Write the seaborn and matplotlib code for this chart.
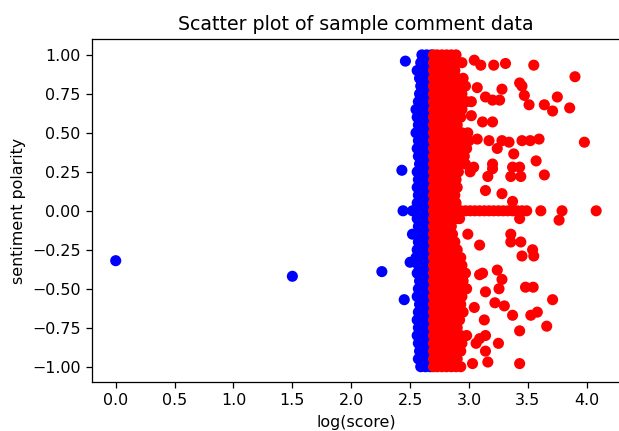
import matplotlib
matplotlib.use("Agg")
import matplotlib.pyplot as plt
import seaborn as sns
import pandas as pd

polarity = [1.00, 0.95, 0.90, 0.85, 0.80, 0.75, 0.70, 0.65, 0.60, 0.55, 0.50,
            0.45, 0.40, 0.35, 0.30, 0.25, 0.20, 0.15, 0.10, 0.05, 0.00,
            -0.05, -0.10, -0.15, -0.20, -0.25, -0.30, -0.35, -0.40, -0.45, -0.50,
            -0.55, -0.60, -0.65, -0.70, -0.75, -0.80, -0.85, -0.90, -0.95, -1.00]

blue_rows = [
    [2.60, 2.64, 2.68], [2.59, 2.63, 2.67], [2.56, 2.61, 2.66], [2.58, 2.62, 2.66],
    [2.59, 2.63, 2.67], [2.58, 2.62, 2.66], [2.57, 2.61, 2.65], [2.55, 2.60, 2.65],
    [2.56, 2.61, 2.66], [2.57, 2.62, 2.66], [2.55, 2.60, 2.65], [2.57, 2.62, 2.66],
    [2.56, 2.61, 2.65], [2.57, 2.62, 2.66], [2.58, 2.62, 2.66], [2.56, 2.61, 2.66],
    [2.57, 2.62, 2.66], [2.56, 2.60, 2.65], [2.57, 2.61, 2.65], [2.56, 2.60, 2.64, 2.68],
    [2.52, 2.55, 2.59, 2.63, 2.67],
    [2.56, 2.61, 2.66], [2.57, 2.62, 2.66], [2.55, 2.60, 2.65], [2.57, 2.61, 2.66],
    [2.56, 2.61, 2.65], [2.55, 2.60, 2.65], [2.57, 2.62, 2.66], [2.56, 2.61, 2.66],
    [2.58, 2.62, 2.66], [2.57, 2.61, 2.65], [2.56, 2.61, 2.66], [2.58, 2.62, 2.66],
    [2.57, 2.62, 2.66], [2.56, 2.61, 2.65], [2.57, 2.62, 2.66], [2.56, 2.61, 2.66],
    [2.57, 2.62, 2.66], [2.58, 2.62, 2.66], [2.57, 2.61, 2.65], [2.59, 2.63, 2.67],
]

red_rows = [
    [2.699, 2.73, 2.77, 2.81, 2.85, 2.89],
    [2.699, 2.74, 2.78, 2.82, 2.86, 2.90, 2.94],
    [2.699, 2.72, 2.76, 2.80, 2.84, 2.88],
    [2.699, 2.74, 2.78, 2.82, 2.86, 2.90, 2.95],
    [2.699, 2.73, 2.77, 2.81, 2.85, 2.89, 2.93, 2.97],
    [2.699, 2.74, 2.78, 2.82, 2.86, 2.90, 2.94],
    [2.699, 2.73, 2.77, 2.81, 2.85, 2.89, 2.93, 2.98, 3.02],
    [2.699, 2.74, 2.78, 2.82, 2.86, 2.90, 2.94],
    [2.699, 2.73, 2.77, 2.81, 2.85, 2.89, 2.93],
    [2.699, 2.74, 2.78, 2.82, 2.86, 2.90],
    [2.699, 2.73, 2.77, 2.81, 2.85, 2.89, 2.94, 2.99],
    [2.699, 2.74, 2.78, 2.82, 2.86, 2.90, 2.95, 3.00],
    [2.699, 2.73, 2.77, 2.81, 2.85, 2.89, 2.93, 2.98],
    [2.699, 2.74, 2.78, 2.82, 2.86, 2.90, 2.96],
    [2.699, 2.73, 2.77, 2.81, 2.85, 2.89, 2.93, 2.97],
    [2.699, 2.74, 2.78, 2.82, 2.86, 2.91],
    [2.699, 2.73, 2.77, 2.81, 2.85, 2.89],
    [2.699, 2.74, 2.78, 2.82, 2.86, 2.90],
    [2.699, 2.73, 2.77, 2.81, 2.85, 2.88],
    [2.699, 2.74, 2.78, 2.82, 2.86, 2.89],
    [2.699, 2.73, 2.77, 2.81, 2.85, 2.89, 2.93, 2.97, 3.01, 3.05, 3.09, 3.13, 3.17,
     3.21, 3.25, 3.29, 3.33, 3.37, 3.41, 3.45, 3.49, 3.61, 3.79, 4.08],
    [2.699, 2.74, 2.78, 2.82, 2.86, 2.90],
    [2.699, 2.73, 2.77, 2.81, 2.85],
    [2.699, 2.74, 2.78, 2.82, 2.86],
    [2.699, 2.73, 2.77, 2.81, 2.85, 2.88],
    [2.699, 2.74, 2.78, 2.82, 2.86, 2.90],
    [2.699, 2.73, 2.77, 2.81, 2.85, 2.89, 2.93],
    [2.699, 2.74, 2.78, 2.82, 2.86, 2.90, 2.94],
    [2.699, 2.73, 2.77, 2.81, 2.85, 2.89, 2.93, 2.97],
    [2.699, 2.74, 2.78, 2.82, 2.86, 2.90, 2.95],
    [2.699, 2.73, 2.77, 2.81, 2.85, 2.89, 2.93, 2.98],
    [2.699, 2.74, 2.78, 2.82, 2.86, 2.90, 2.94],
    [2.699, 2.73, 2.77, 2.81, 2.85, 2.89, 2.93],
    [2.699, 2.74, 2.78, 2.82, 2.86, 2.90, 2.95],
    [2.699, 2.73, 2.77, 2.81, 2.85, 2.89, 2.92],
    [2.699, 2.74, 2.78, 2.82, 2.86, 2.90],
    [2.699, 2.73, 2.77, 2.81, 2.85, 2.89, 2.93, 2.98],
    [2.699, 2.74, 2.78, 2.82, 2.86, 2.90, 2.94],
    [2.699, 2.73, 2.77, 2.81, 2.85, 2.89, 2.93],
    [2.699, 2.74, 2.78, 2.82, 2.86, 2.90],
    [2.699, 2.73, 2.77, 2.81, 2.85, 2.89, 2.93],
]

blue_out_x = [0.00, 1.50, 2.26, 2.43, 2.46, 2.45, 2.50, 2.44, 2.52]
blue_out_y = [-0.32, -0.42, -0.39, 0.26, 0.96, -0.57, -0.33, 0.00, -0.15]

red_out_x = [3.045, 3.10, 3.21, 3.31, 3.55, 3.90, 3.43, 3.45, 3.28, 3.07, 3.47, 3.75,
             3.14, 3.20, 3.26, 3.51, 3.64, 3.71, 3.855, 3.02, 3.115, 3.20, 3.07, 3.17,
             3.28, 3.34, 3.45, 3.52, 3.595, 3.98, 3.24, 3.38, 3.57, 3.20, 3.20, 3.37,
             3.43, 3.355, 3.44, 3.64, 3.04, 3.01, 3.16, 3.14, 3.28, 3.37,
             3.765, 3.43, 2.92, 3.355, 3.44, 3.355, 3.09, 3.54, 3.55, 3.45, 2.99,
             3.115, 3.24, 3.28, 3.255, 3.48, 3.545, 3.71, 3.14, 3.22, 3.30, 3.37,
             3.525, 3.58, 3.66, 3.43, 3.13, 3.25, 3.14, 3.16, 3.43, 3.03, 3.09,
             3.06, 3.045, 3.09, 3.14]
red_out_y = [0.966, 0.934, 0.934, 0.945, 0.934, 0.86, 0.82, 0.80, 0.78, 0.79, 0.74, 0.73,
             0.73, 0.71, 0.71, 0.68, 0.68, 0.64, 0.66, 0.61, 0.57, 0.57, 0.46, 0.45,
             0.45, 0.44, 0.45, 0.45, 0.46, 0.44, 0.40, 0.365, 0.32, 0.30, 0.27, 0.28,
             0.28, 0.22, 0.22, 0.23, 0.28, 0.25, 0.22, 0.13, 0.11, 0.06,
             -0.06, -0.05, -0.05, -0.15, -0.20, -0.20, -0.22, -0.25, -0.29, -0.29, -0.15,
             -0.40, -0.38, -0.44, -0.50, -0.49, -0.49, -0.57, -0.52, -0.59, -0.61, -0.67,
             -0.67, -0.65, -0.74, -0.77, -0.70, -0.85, -0.90, -0.97, -0.98, -0.98, -0.82,
             -0.85, -0.62, -0.41, -0.80]

xs, ys, grp = [], [], []
for y, row in zip(polarity, blue_rows):
    for x in row:
        xs.append(x); ys.append(y); grp.append("low")
for x, y in zip(blue_out_x, blue_out_y):
    xs.append(x); ys.append(y); grp.append("low")
for y, row in zip(polarity, red_rows):
    for x in row:
        xs.append(x); ys.append(y); grp.append("high")
for x, y in zip(red_out_x, red_out_y):
    xs.append(x); ys.append(y); grp.append("high")

df = pd.DataFrame({"log_score": xs, "polarity": ys, "group": grp})

DPI = 114
fig = plt.figure(figsize=(619 / DPI, 431 / DPI), dpi=DPI)
ax = fig.add_axes([91.7 / 619, 1 - 382.3 / 431, 528.5 / 619, 343.0 / 431])
sns.scatterplot(data=df, x="log_score", y="polarity", hue="group",
                palette={"low": "#0000ff", "high": "#ff0000"},
                s=36, linewidth=1.0, edgecolor="face", legend=False, ax=ax)
ax.set_xticks([0.0, 0.5, 1.0, 1.5, 2.0, 2.5, 3.0, 3.5, 4.0])
ax.set_yticks([-1.00, -0.75, -0.50, -0.25, 0.00, 0.25, 0.50, 0.75, 1.00])
ax.set_xlim(-0.204, 4.284)
ax.set_ylim(-1.1, 1.1)
ax.spines["right"].set_visible(False)
ax.set_title("Scatter plot of sample comment data")
ax.set_xlabel("log(score)")
ax.set_ylabel("sentiment polarity")
fig.savefig("out.png", dpi=DPI)
